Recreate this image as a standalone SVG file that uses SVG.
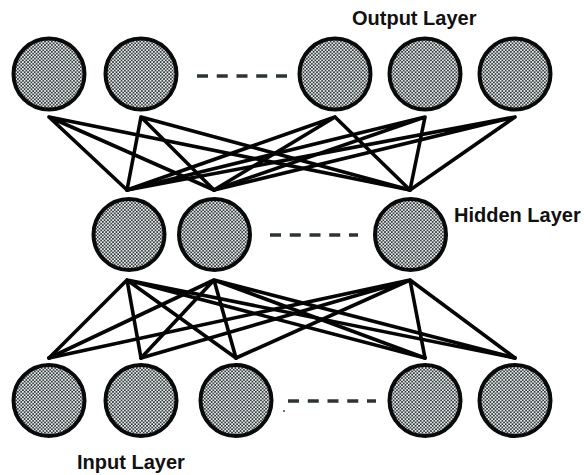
<svg xmlns="http://www.w3.org/2000/svg" width="584" height="475" viewBox="0 0 584 475">
<defs>
<pattern id="dots" width="3.4" height="3.4" patternUnits="userSpaceOnUse">
<rect width="3.4" height="3.4" fill="#e6ecee"/>
<circle cx="0.85" cy="0.85" r="0.9" fill="#1e2222"/>
<circle cx="2.55" cy="2.55" r="0.9" fill="#1e2222"/>
</pattern>
</defs>
<style>
.node{fill:url(#dots);stroke:#0a0a0a;stroke-width:4}
.edge{stroke:#050505;stroke-width:3.6;stroke-linecap:round;fill:none}
.dash{stroke:#2c3432;stroke-width:3.5;stroke-dasharray:11 8.75;fill:none}
.label{font-family:"Liberation Sans",Arial,sans-serif;font-weight:bold;font-size:20px;fill:#111}
</style>
<rect width="584" height="475" fill="#ffffff"/>
<g id="connectors">
<g id="out-hidden">
<path class="edge" d="M49 117L127 190M49 117L214 190M49 117L410 190"/>
<path class="edge" d="M141 117L127 190M141 117L214 190M141 117L410 190"/>
<path class="edge" d="M335 117L127 190M335 117L214 190M335 117L410 190"/>
<path class="edge" d="M425 117L127 190M425 117L214 190M425 117L410 190"/>
<path class="edge" d="M515 117L127 190M515 117L214 190M515 117L410 190"/>
</g>
<g id="hidden-in">
<path class="edge" d="M127 280L49 358M127 280L141 358M127 280L236 358M127 280L425 358M127 280L515 358"/>
<path class="edge" d="M214 280L49 358M214 280L141 358M214 280L236 358M214 280L425 358M214 280L515 358"/>
<path class="edge" d="M410 280L49 358M410 280L141 358M410 280L236 358M410 280L425 358M410 280L515 358"/>
</g>
</g>
<g id="output-layer">
<g id="out1"><circle class="node" cx="49" cy="74" r="35.5"/></g>
<g id="out2"><circle class="node" cx="141" cy="74" r="35.5"/></g>
<g id="out-ellipsis"><path class="dash" d="M197 76H287"/></g>
<g id="out3"><circle class="node" cx="335" cy="74" r="35.5"/></g>
<g id="out4"><circle class="node" cx="425" cy="74" r="35.5"/></g>
<g id="out5"><circle class="node" cx="515" cy="74" r="35.5"/></g>
<text class="label" x="352" y="25">Output Layer</text>
</g>
<g id="hidden-layer">
<g id="hid1"><circle class="node" cx="129" cy="234.5" r="35.5"/></g>
<g id="hid2"><circle class="node" cx="214.5" cy="234.5" r="35.5"/></g>
<g id="hid-ellipsis"><path class="dash" d="M270 235H358"/></g>
<g id="hid3"><circle class="node" cx="410.5" cy="234.5" r="35.5"/></g>
<text class="label" x="454" y="222">Hidden Layer</text>
</g>
<g id="input-layer">
<g id="in1"><circle class="node" cx="49" cy="400.5" r="35.5"/></g>
<g id="in2"><circle class="node" cx="141" cy="400.5" r="35.5"/></g>
<g id="in3"><circle class="node" cx="236" cy="400.5" r="35.5"/></g>
<g id="in-ellipsis"><path class="dash" d="M288 401H376"/><circle cx="284" cy="411" r="1.1" fill="#555"/></g>
<g id="in4"><circle class="node" cx="425" cy="400.5" r="35.5"/></g>
<g id="in5"><circle class="node" cx="515" cy="400.5" r="35.5"/></g>
<text class="label" x="77" y="469">Input Layer</text>
</g>
</svg>
